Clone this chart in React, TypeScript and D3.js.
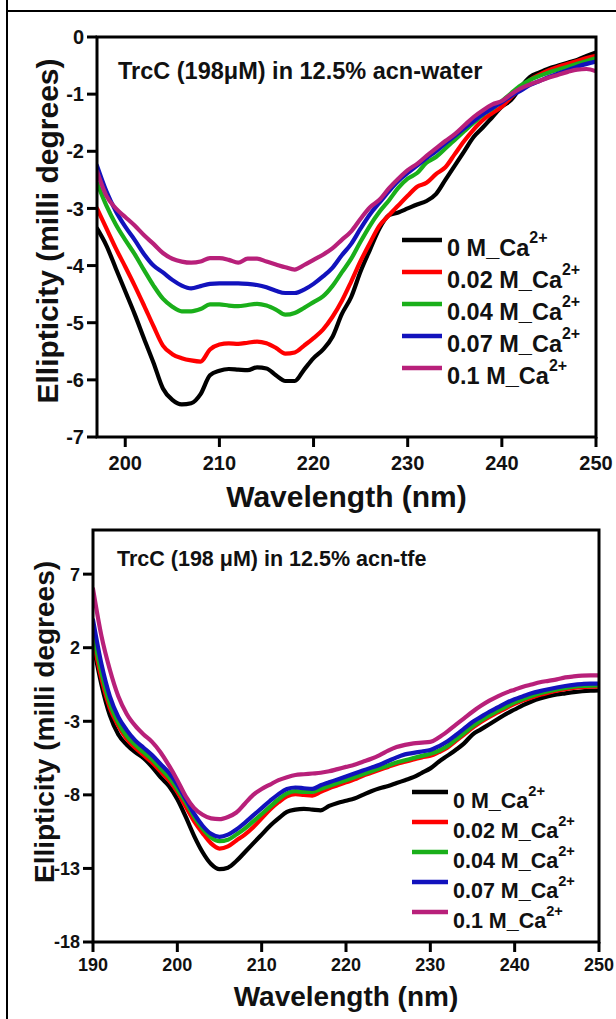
import React from "react";
import * as d3 from "d3";

// ---------- Top panel data (12.5% acn-water) ----------
const WL_TOP = [197,198,199,200,201,202,203,204,205,206,207,208,209,210,211,212,213,214,215,216,217,218,219,220,221,222,223,224,225,226,227,228,229,230,231,232,233,234,235,236,237,238,239,240,241,242,243,244,245,246,247,248,249,250];
const TOP_CA_0 = [-3.35,-3.65,-4.05,-4.45,-4.85,-5.28,-5.70,-6.15,-6.35,-6.43,-6.41,-6.25,-5.92,-5.84,-5.81,-5.82,-5.83,-5.78,-5.80,-5.92,-6.02,-6.02,-5.82,-5.62,-5.47,-5.25,-4.85,-4.55,-4.10,-3.72,-3.35,-3.12,-3.07,-3.00,-2.93,-2.87,-2.75,-2.50,-2.25,-2.00,-1.75,-1.58,-1.40,-1.22,-1.10,-0.88,-0.70,-0.62,-0.55,-0.50,-0.45,-0.40,-0.33,-0.27];
const TOP_CA_002 = [-3.00,-3.35,-3.70,-4.02,-4.35,-4.70,-5.06,-5.40,-5.55,-5.62,-5.66,-5.68,-5.47,-5.38,-5.36,-5.37,-5.35,-5.33,-5.36,-5.44,-5.54,-5.52,-5.40,-5.27,-5.12,-4.90,-4.62,-4.28,-3.92,-3.60,-3.30,-3.12,-2.95,-2.78,-2.62,-2.55,-2.40,-2.28,-2.05,-1.82,-1.62,-1.45,-1.33,-1.22,-1.05,-0.90,-0.75,-0.66,-0.58,-0.52,-0.47,-0.42,-0.37,-0.33];
const TOP_CA_004 = [-2.55,-2.95,-3.28,-3.55,-3.80,-4.08,-4.35,-4.58,-4.72,-4.80,-4.80,-4.76,-4.68,-4.68,-4.70,-4.71,-4.69,-4.67,-4.70,-4.77,-4.86,-4.83,-4.74,-4.64,-4.54,-4.36,-4.12,-3.88,-3.58,-3.30,-3.06,-2.86,-2.64,-2.48,-2.38,-2.20,-2.10,-1.95,-1.80,-1.65,-1.50,-1.36,-1.25,-1.12,-0.98,-0.85,-0.75,-0.68,-0.62,-0.57,-0.52,-0.47,-0.42,-0.37];
const TOP_CA_007 = [-2.25,-2.70,-3.05,-3.32,-3.55,-3.80,-4.00,-4.12,-4.25,-4.35,-4.40,-4.36,-4.32,-4.31,-4.31,-4.31,-4.32,-4.34,-4.38,-4.44,-4.48,-4.48,-4.42,-4.32,-4.19,-4.04,-3.82,-3.62,-3.35,-3.10,-2.90,-2.70,-2.52,-2.38,-2.25,-2.12,-2.00,-1.86,-1.73,-1.60,-1.47,-1.35,-1.24,-1.14,-1.03,-0.94,-0.84,-0.77,-0.70,-0.64,-0.58,-0.52,-0.47,-0.43];
const TOP_CA_01 = [-2.35,-2.78,-3.00,-3.15,-3.30,-3.47,-3.62,-3.78,-3.88,-3.93,-3.95,-3.93,-3.87,-3.87,-3.90,-3.95,-3.88,-3.88,-3.93,-3.98,-4.03,-4.07,-3.99,-3.90,-3.81,-3.70,-3.55,-3.40,-3.18,-2.98,-2.85,-2.65,-2.48,-2.33,-2.22,-2.08,-1.95,-1.82,-1.70,-1.55,-1.40,-1.28,-1.18,-1.12,-1.00,-0.90,-0.83,-0.77,-0.71,-0.66,-0.61,-0.57,-0.56,-0.60];
const TOP_X_TICKS = [200, 210, 220, 230, 240, 250];
const TOP_Y_TICKS = [0, -1, -2, -3, -4, -5, -6, -7];

// ---------- Bottom panel data (12.5% acn-tfe) ----------
const WL_BOT = [190,191,192,193,194,195,196,197,198,199,200,201,202,203,204,205,206,207,208,209,210,211,212,213,214,215,216,217,218,219,220,221,222,223,224,225,226,227,228,229,230,231,232,233,234,235,236,237,238,239,240,241,242,243,244,245,246,247,248,249,250];
const BOT_CA_0 = [2.3,-0.5,-2.6,-3.9,-4.6,-5.1,-5.5,-6.1,-6.8,-7.4,-8.3,-9.5,-10.8,-11.9,-12.7,-13.05,-12.95,-12.5,-11.9,-11.3,-10.7,-10.1,-9.6,-9.15,-9.0,-8.95,-9.0,-9.05,-8.75,-8.55,-8.4,-8.25,-8.0,-7.75,-7.55,-7.4,-7.2,-7.0,-6.8,-6.5,-6.2,-5.75,-5.35,-4.95,-4.5,-3.9,-3.55,-3.2,-2.85,-2.5,-2.2,-1.9,-1.65,-1.45,-1.3,-1.18,-1.1,-1.02,-0.96,-0.92,-0.9];
const BOT_CA_002 = [2.6,-0.1,-2.1,-3.3,-4.2,-4.8,-5.3,-5.8,-6.4,-7.0,-7.8,-8.8,-9.8,-10.6,-11.3,-11.65,-11.5,-11.1,-10.7,-10.2,-9.6,-9.0,-8.5,-8.1,-7.95,-8.0,-8.05,-7.8,-7.55,-7.35,-7.15,-6.95,-6.7,-6.5,-6.3,-6.1,-5.9,-5.75,-5.6,-5.45,-5.35,-5.1,-4.8,-4.35,-3.9,-3.45,-3.05,-2.7,-2.4,-2.1,-1.82,-1.58,-1.38,-1.2,-1.05,-0.92,-0.82,-0.74,-0.68,-0.65,-0.64];
const BOT_CA_004 = [3.0,0.3,-1.8,-3.1,-4.0,-4.6,-5.1,-5.6,-6.2,-6.8,-7.6,-8.5,-9.5,-10.3,-10.9,-11.15,-11.05,-10.7,-10.3,-9.8,-9.3,-8.8,-8.3,-7.9,-7.75,-7.8,-7.8,-7.6,-7.4,-7.2,-7.0,-6.8,-6.6,-6.4,-6.2,-6.0,-5.8,-5.65,-5.5,-5.35,-5.2,-5.0,-4.7,-4.25,-3.8,-3.35,-2.95,-2.6,-2.3,-2.0,-1.72,-1.48,-1.28,-1.1,-0.95,-0.83,-0.73,-0.65,-0.6,-0.57,-0.56];
const BOT_CA_007 = [3.9,0.9,-1.3,-2.7,-3.6,-4.3,-4.8,-5.3,-5.9,-6.5,-7.3,-8.3,-9.3,-10.1,-10.65,-10.85,-10.7,-10.35,-9.9,-9.4,-8.9,-8.4,-7.95,-7.6,-7.5,-7.55,-7.6,-7.35,-7.15,-6.95,-6.75,-6.55,-6.35,-6.15,-5.95,-5.7,-5.45,-5.25,-5.15,-5.05,-4.95,-4.7,-4.38,-3.95,-3.5,-3.05,-2.7,-2.35,-2.05,-1.75,-1.5,-1.3,-1.1,-0.95,-0.82,-0.7,-0.6,-0.52,-0.47,-0.44,-0.44];
const BOT_CA_01 = [6.0,2.8,0.5,-1.3,-2.5,-3.3,-3.9,-4.4,-5.1,-6.0,-7.0,-8.1,-8.9,-9.35,-9.6,-9.65,-9.5,-9.2,-8.6,-8.0,-7.6,-7.3,-7.0,-6.8,-6.65,-6.6,-6.55,-6.5,-6.4,-6.25,-6.1,-5.95,-5.75,-5.55,-5.3,-5.0,-4.75,-4.6,-4.5,-4.45,-4.4,-4.1,-3.7,-3.25,-2.8,-2.35,-1.95,-1.6,-1.3,-1.05,-0.85,-0.65,-0.5,-0.35,-0.25,-0.15,-0.02,0.05,0.1,0.12,0.12];
const BOT_X_TICKS = [190, 200, 210, 220, 230, 240, 250];
const BOT_Y_TICKS = [7, 2, -3, -8, -13, -18];

const SERIES_LABELS = ["0 M_Ca", "0.02 M_Ca", "0.04 M_Ca", "0.07 M_Ca", "0.1 M_Ca"];
const SERIES_COLORS = ["#000000", "#ff0000", "#1aaf1a", "#1212bd", "#b8207a"];

const FONT = "'Liberation Sans', Arial, Helvetica, sans-serif";

type PanelProps = {
  id: string;
  left: number; right: number; top: number; bottom: number;
  xDomain: [number, number]; yDomain: [number, number];
  xTicks: number[]; yTicks: number[];
  wl: number[]; series: number[][];
  title: string; titleX: number; titleY: number; titleSize: number;
  legendX: number; legendY: number; legendStep: number; legendLen: number; legendFont: number;
  tickFont: number; xTickBaseline: number;
  labelFont: number; xLabelBaseline: number; yLabelX: number; yLabelY: number;
};

function Panel(p: PanelProps) {
  const x = d3.scaleLinear().domain(p.xDomain).range([p.left, p.right]);
  const y = d3.scaleLinear().domain(p.yDomain).range([p.bottom, p.top]);
  const line = d3
    .line<number>()
    .x((_, i) => x(p.wl[i]))
    .y((d) => y(d))
    .curve(d3.curveMonotoneX);
  const tickLen = 10;
  return (
    <g>
      <defs>
        <clipPath id={p.id + "-clip"}>
          <rect x={p.left} y={p.top} width={p.right - p.left} height={p.bottom - p.top} />
        </clipPath>
      </defs>
      {/* data lines */}
      <g clipPath={`url(#${p.id}-clip)`}>
        {p.series.map((s, i) => (
          <path key={i} d={line(s) || ""} fill="none" stroke={SERIES_COLORS[i]} strokeWidth={4.2} strokeLinejoin="round" strokeLinecap="round" />
        ))}
      </g>
      {/* frame */}
      <rect x={p.left} y={p.top} width={p.right - p.left} height={p.bottom - p.top} fill="none" stroke="#000" strokeWidth={3} />
      {/* y ticks */}
      {p.yTicks.map((t) => (
        <g key={"y" + t}>
          <line x1={p.left - tickLen} x2={p.left} y1={y(t)} y2={y(t)} stroke="#000" strokeWidth={3} />
          <text x={p.left - 13} y={y(t)} dy="0.36em" textAnchor="end" fontFamily={FONT} fontWeight="bold" fontSize={p.tickFont} fill="#111">
            {t}
          </text>
        </g>
      ))}
      {/* x ticks */}
      {p.xTicks.map((t) => (
        <g key={"x" + t}>
          <line x1={x(t)} x2={x(t)} y1={p.bottom} y2={p.bottom + tickLen} stroke="#000" strokeWidth={3} />
          <text x={x(t)} y={p.xTickBaseline} textAnchor="middle" fontFamily={FONT} fontWeight="bold" fontSize={p.tickFont} fill="#111">
            {t}
          </text>
        </g>
      ))}
      {/* title */}
      <text x={p.titleX} y={p.titleY} fontFamily={FONT} fontWeight="bold" fontSize={p.titleSize} fill="#111">
        {p.title}
      </text>
      {/* legend */}
      {SERIES_LABELS.map((lab, i) => {
        const ly = p.legendY + i * p.legendStep;
        return (
          <g key={"lg" + i}>
            <line x1={p.legendX} x2={p.legendX + p.legendLen} y1={ly} y2={ly} stroke={SERIES_COLORS[i]} strokeWidth={4.5} />
            <text x={p.legendX + p.legendLen + 5} y={ly + 16} fontFamily={FONT} fontWeight="bold" fontSize={p.legendFont} fill="#111">
              {lab}
              <tspan dy={-0.55 * p.legendFont} fontSize={p.legendFont * 0.68}>2+</tspan>
            </text>
          </g>
        );
      })}
      {/* axis labels */}
      <text x={(p.left + p.right) / 2} y={p.xLabelBaseline} textAnchor="middle" fontFamily={FONT} fontWeight="bold" fontSize={p.labelFont} fill="#111">
        Wavelength (nm)
      </text>
      <text
        transform={`translate(${p.yLabelX},${p.yLabelY}) rotate(-90)`}
        textAnchor="middle"
        dy="0.36em"
        fontFamily={FONT}
        fontWeight="bold"
        fontSize={p.labelFont}
        fill="#111"
      >
        Ellipticity (milli degrees)
      </text>
    </g>
  );
}

export default function App() {
  return (
    <div style={{ position: "absolute", left: 0, top: 0 }}>
      <svg width={616} height={1019} style={{ display: "block", background: "#fff" }}>
        {/* outer cell border */}
        <line x1={7} x2={616} y1={11} y2={11} stroke="#000" strokeWidth={2} />
        <line x1={7} x2={7} y1={0} y2={1019} stroke="#000" strokeWidth={2} />
        <Panel
          id="top"
          left={97} right={596} top={37} bottom={437}
          xDomain={[197, 250]} yDomain={[-7, 0]}
          xTicks={TOP_X_TICKS} yTicks={TOP_Y_TICKS}
          wl={WL_TOP}
          series={[TOP_CA_0, TOP_CA_002, TOP_CA_004, TOP_CA_007, TOP_CA_01]}
          title="TrcC (198μM) in 12.5% acn-water" titleX={118} titleY={79} titleSize={23.5}
          legendX={402} legendY={240} legendStep={32} legendLen={40} legendFont={23.5}
          tickFont={20} xTickBaseline={470}
          labelFont={30} xLabelBaseline={507} yLabelX={47} yLabelY={231}
        />
        <Panel
          id="bot"
          left={93} right={599} top={530} bottom={942}
          xDomain={[190, 250]} yDomain={[-18, 10]}
          xTicks={BOT_X_TICKS} yTicks={BOT_Y_TICKS}
          wl={WL_BOT}
          series={[BOT_CA_0, BOT_CA_002, BOT_CA_004, BOT_CA_007, BOT_CA_01]}
          title="TrcC (198 μM) in 12.5% acn-tfe" titleX={117} titleY={566} titleSize={21.5}
          legendX={412} legendY={792} legendStep={30} legendLen={36} legendFont={21.5}
          tickFont={18} xTickBaseline={971}
          labelFont={28} xLabelBaseline={1006} yLabelX={44} yLabelY={722}
        />
      </svg>
    </div>
  );
}
